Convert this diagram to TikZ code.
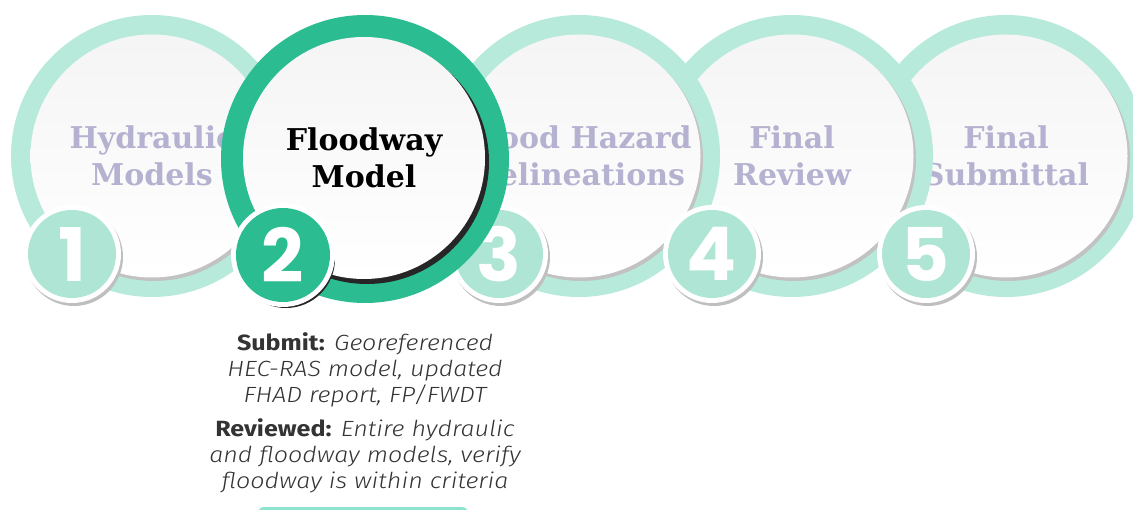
\documentclass[tikz,border=0pt]{standalone}
\usepackage{fontspec}
\usepackage{xcolor}
\usepackage{tikz}
\usetikzlibrary{positioning}
\newfontfamily\titlefont{DejaVu Serif}
\newfontfamily\numfont{Poppins}
\newfontfamily\descfont{Fira Sans}[UprightFont={* Light},ItalicFont={* Light Italic},BoldFont={* Bold},FakeStretch=1.14]
\definecolor{ringlight}{HTML}{B7EADB}
\definecolor{ringdark}{HTML}{2BBD91}
\definecolor{badgelight}{HTML}{AEE5D4}
\definecolor{titlegray}{HTML}{B4B2D0}
\definecolor{bodytext}{HTML}{333333}
\definecolor{barteal}{HTML}{8EE3CF}
% one faded step: ring, inner disk, title
\newcommand\stepcircle[3]{%
  \node[ring] (ring#1) at (#2,156) {};
  \node[rimshade] (rim#1) at ([shift={(2,3)}]ring#1.center) {};
  \node[disk] (disk#1) at (ring#1.center) {};
  \node[steptitle] (title#1) at (ring#1.center) {#3};
}
% number badge at the lower left of a step
\newcommand\stepbadge[2]{%
  \node[badgeshadow] (bsh#1) at ([shift={(-78,101)}]ring#1.center) {};
  \node[badgerim] (brim#1) at ([shift={(-80,98)}]ring#1.center) {};
  \node[badge] (badge#1) at (brim#1.center) {#2};
}

\begin{document}
\begin{tikzpicture}[x=1pt,y=-1pt,
  ring/.style={circle,fill=ringlight,minimum size=282pt,inner sep=0pt},
  ringactive/.style={ring,fill=ringdark,minimum size=288pt},
  rimshade/.style={circle,fill=black!24,minimum size=244pt,inner sep=0pt},
  disk/.style={circle,top color=black!4,bottom color=white,minimum size=243pt,inner sep=0pt},
  steptitle/.style={font=\titlefont\bfseries\fontsize{30}{37}\selectfont,text=titlegray,align=center},
  badgeshadow/.style={circle,fill=black!25,minimum size=98pt,inner sep=0pt},
  badgerim/.style={circle,fill=white,minimum size=98pt,inner sep=0pt},
  badge/.style={circle,fill=badgelight,minimum size=88pt,inner sep=0pt,text=white,font=\numfont\bfseries\fontsize{74}{74}\selectfont},
  desc/.style={font=\descfont\itshape\fontsize{22}{26}\selectfont,text=bodytext,align=center,inner sep=0pt}
  ]
  \useasboundingbox (0,0) rectangle (1133,510);

  % faded steps, right to left
  \stepcircle{5}{1006}{Final\\Submittal}
  \stepcircle{4}{792}{Final\\Review}
  \stepcircle{3}{579}{Flood Hazard\\Delineations}
  \stepbadge{5}{5}
  \stepbadge{4}{4}
  \stepbadge{3}{3}
  \stepcircle{1}{152}{Hydraulic\\Models}
  \stepbadge{1}{1}

  % current step
  \node[ringactive] (ring2) at (365,159) {};
  \node[circle,fill=black!85,minimum size=244pt,inner sep=0pt] (rim2) at ([shift={(2,3)}]ring2.center) {};
  \node[disk,minimum size=242pt] (disk2) at ([shift={(-1,-1)}]ring2.center) {};
  \node[steptitle,text=black] (title2) at (disk2.center) {Floodway\\Model};
  \node[badgeshadow,fill=black!85] (bsh2) at ([shift={(-79,100)}]ring2.center) {};
  \node[badgerim,minimum size=104pt] (brim2) at ([shift={(-82,96)}]ring2.center) {};
  \node[badge,fill=ringdark,minimum size=94pt] (badge2) at (brim2.center) {2};

  \node[desc,below=29pt of ring2] (info2) {{\bfseries\upshape Submit:} Georeferenced\\
    HEC-RAS model, updated\\
    FHAD report, FP/FWDT\\[8pt]
    {\bfseries\upshape Reviewed:} Entire hydraulic\\
    and floodway models, verify\\
    floodway is within criteria};
  \node[rectangle,rounded corners=6pt,fill=barteal,minimum width=210pt,minimum height=20pt] (more2) at (363,517) {};
\end{tikzpicture}
\end{document}
